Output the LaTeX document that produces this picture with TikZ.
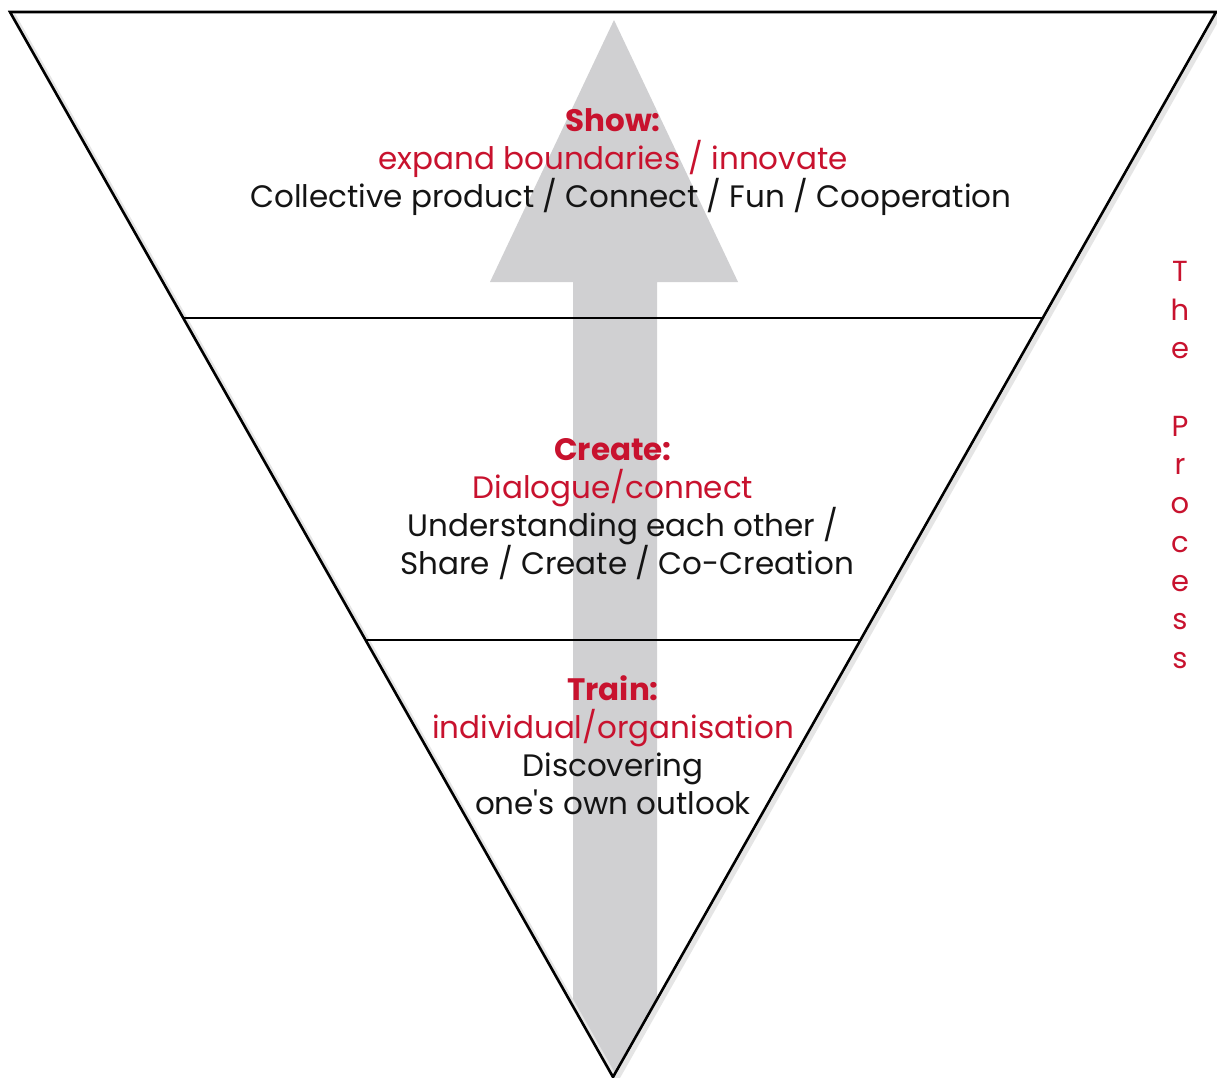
\documentclass[tikz,border=0pt]{standalone}
\usepackage{fontspec}
\setmainfont{Poppins}
\usetikzlibrary{calc}
\definecolor{procred}{RGB}{200,18,46}
\definecolor{arrowgray}{RGB}{208,208,210}
\definecolor{ink}{RGB}{20,20,20}

\begin{document}
\begin{tikzpicture}[x=1pt,y=-1pt,
  stagetext/.style={align=center, text=ink, inner sep=0pt,
    font=\fontsize{31}{38}\selectfont},
  sidetext/.style={align=center, text=procred, inner sep=0pt,
    font=\fontsize{29}{38.7}\selectfont},
  edge/.style={line width=2.6pt, line join=miter},
  divider/.style={line width=1.8pt},
  shadowline/.style={black!10, line width=5pt}]
\useasboundingbox (0,0) rectangle (1217,1077);
\fill[white] (0,0) rectangle (1217,1077);

% corners of the inverted triangle and the two dividing levels
\coordinate (tl) at (10,12);
\coordinate (tr) at (1216,12);
\coordinate (ap) at (613,1077);
\coordinate (l1) at ($(tl)!0.2873!(ap)$);
\coordinate (r1) at ($(tr)!0.2873!(ap)$);
\coordinate (l2) at ($(tl)!0.5897!(ap)$);
\coordinate (r2) at ($(tr)!0.5897!(ap)$);

% upward arrow, kept inside the triangle
\begin{scope}
  \clip (tl) -- (tr) -- (ap) -- cycle;
  \fill[arrowgray] (573,1100) -- (573,282) -- (490,282) -- (614,20)
    -- (738,282) -- (657,282) -- (657,1100) -- cycle;
\end{scope}

% soft shadow of the outline
\draw[shadowline] ([shift={(3,3)}]tr) -- ([shift={(3,3)}]ap);
\draw[shadowline] ([shift={(3,3)}]tl) -- ([shift={(3,3)}]ap);

% outline and levels
\draw[edge] (tl) -- (tr) -- (ap) -- cycle;
\draw[divider] (l1) -- (r1);
\draw[divider] (l2) -- (r2);

% stage texts
\node[stagetext] (show) at (613,162)
  {\textcolor{procred}{\textbf{Show:}}\\
   \textcolor{procred}{expand boundaries / innovate}\\
   \hspace*{36pt}Collective product / Connect / Fun / Cooperation};
\node[stagetext] (create) at (613,509)
  {\textcolor{procred}{\textbf{Create:}}\\
   \textcolor{procred}{Dialogue/connect}\\
   \hspace*{20pt}Understanding each other /\\
   \hspace*{28pt}Share / Create / Co-Creation};
\node[stagetext] (train) at (613,745)
  {\textcolor{procred}{\textbf{Train:}}\\
   \textcolor{procred}{individual/organisation}\\
   Discovering\\
   one\textquotesingle s own outlook};

% side caption
\node[sidetext] (process) at (1180,465)
  {T\\h\\e\\\mbox{}\\P\\r\\o\\c\\e\\s\\s};
\end{tikzpicture}
\end{document}
